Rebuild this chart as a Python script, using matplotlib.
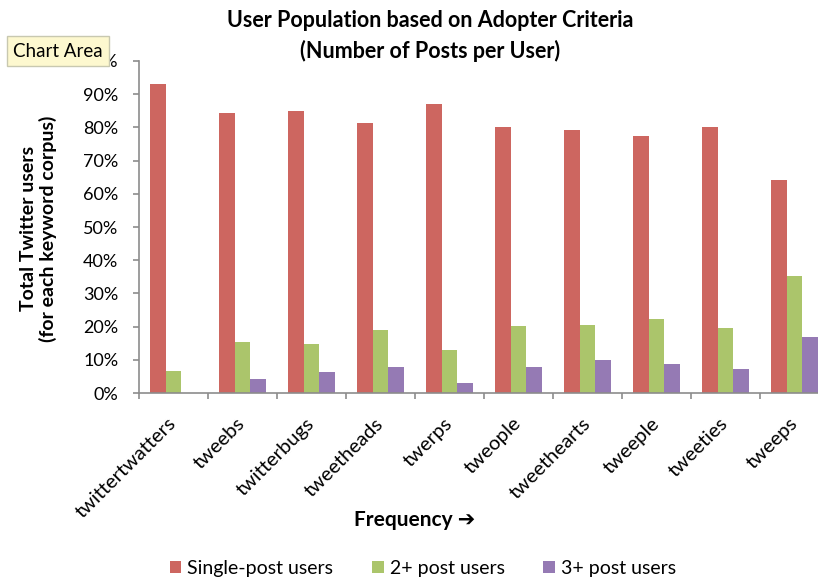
import numpy as np
import matplotlib
matplotlib.use("Agg")
import matplotlib.pyplot as plt
from matplotlib.ticker import PercentFormatter, FixedLocator

categories = ["twittertwatters", "tweebs", "twitterbugs", "tweetheads", "twerps",
              "tweople", "tweethearts", "tweeple", "tweeties", "tweeps"]
single_post = [93.0, 84.4, 84.9, 81.2, 87.1, 80.1, 79.1, 77.4, 80.1, 64.2]
two_plus = [6.7, 15.3, 14.7, 19.0, 13.0, 20.1, 20.6, 22.2, 19.5, 35.3]
three_plus = [0.0, 4.1, 6.2, 7.7, 3.1, 7.7, 9.8, 8.8, 7.1, 16.8]
series_names = ["Single-post users", "2+ post users", "3+ post users"]
colors = ["#CD6660", "#ABC56B", "#957AB4"]

plt.rcParams["font.family"] = ["Lato", "DejaVu Sans"]

fig = plt.figure(figsize=(8.18, 5.82), dpi=100)
# the plot area runs past the right edge of the picture, as in the reference
ax = fig.add_axes([0.170, 0.3247, 0.8434, 0.5705])

x = np.arange(len(categories))
width = 0.225
for i, (vals, name, col) in enumerate(zip([single_post, two_plus, three_plus], series_names, colors)):
    ax.bar(x + (i - 1) * width, vals, width, color=col, label=name)

ax.set_xlim(-0.5, len(categories) - 0.5)
ax.set_ylim(0, 100)
ax.yaxis.set_major_locator(FixedLocator(np.arange(0, 101, 10)))
ax.yaxis.set_major_formatter(PercentFormatter(decimals=0))
ax.set_xticks(np.arange(-0.5, len(categories), 1.0))
ax.set_xticklabels([])
for i, c in enumerate(categories):
    ax.annotate(c, xy=(i, 0), xycoords=("data", "axes fraction"), xytext=(0, -20),
                textcoords="offset points", rotation=45, rotation_mode="anchor",
                ha="right", va="center", fontsize=14.5)

for side in ["top", "right"]:
    ax.spines[side].set_visible(False)
for side in ["left", "bottom"]:
    ax.spines[side].set_color("#8C8C8C")
    ax.spines[side].set_linewidth(1.2)
ax.tick_params(axis="both", direction="out", color="#8C8C8C", length=4, width=1.2)
ax.tick_params(axis="y", labelsize=13, pad=11)

fig.text(0.526, 0.965, "User Population based on Adopter Criteria", ha="center", va="center",
         fontsize=15.5, fontweight="bold")
fig.text(0.526, 0.913, "(Number of Posts per User)", ha="center", va="center",
         fontsize=15.5, fontweight="bold")
fig.text(0.047, 0.607, "Total Twitter users\n(for each keyword corpus)", rotation=90,
         ha="center", va="center", fontsize=14, fontweight="bold", linespacing=1.15)
fig.text(0.507, 0.106, "Frequency \u2794", ha="center", va="center", fontsize=15, fontweight="bold")

fig.legend(loc="center", bbox_to_anchor=(0.517, 0.024), ncol=3, frameon=False, fontsize=14,
           handlelength=0.6, handleheight=0.6, handletextpad=0.3, columnspacing=2.0)

fig.text(0.016, 0.912, "Chart Area", ha="left", va="center", fontsize=13.5,
         bbox=dict(boxstyle="square,pad=0.35", facecolor="#FDF8CF", edgecolor="#C8C8B0"))

fig.savefig("out.png", dpi=100)
